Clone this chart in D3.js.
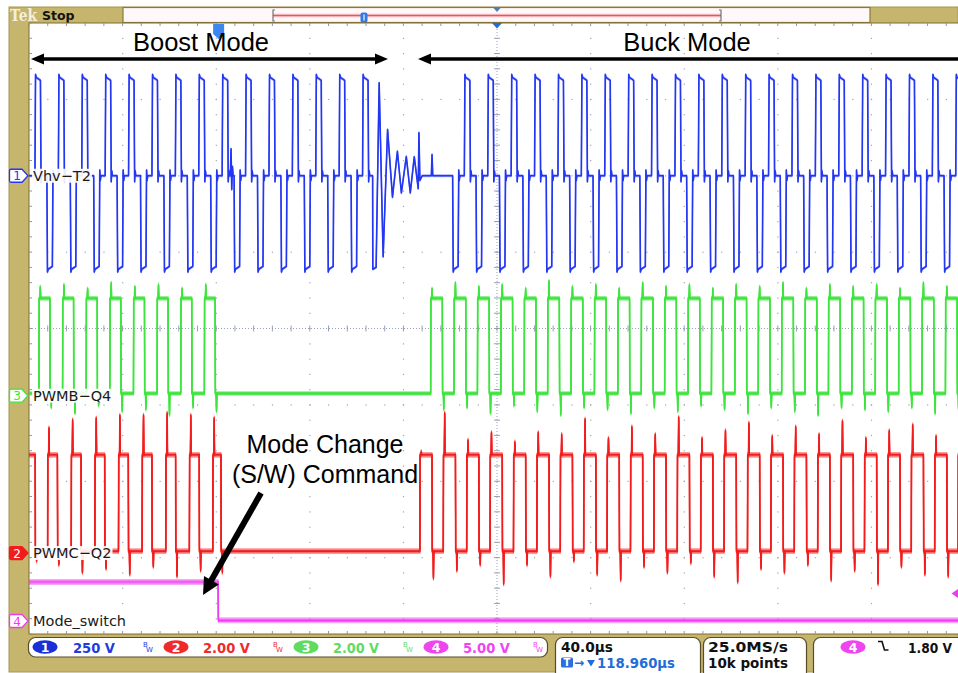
<!DOCTYPE html>
<html>
<head>
<meta charset="utf-8">
<title>Boost / Buck mode transition</title>
<script src="https://cdn.jsdelivr.net/npm/d3@7/dist/d3.min.js"></script>
<style>
  html, body { margin: 0; padding: 0; background: #ffffff; }
  svg { display: block; font-family: "DejaVu Sans", sans-serif; }
</style>
</head>
<body>
<svg id="scope" width="958" height="673"></svg>
<script>
// ---------- acquisition settings ----------
const channelIds   = [1, 2, 3, 4];
const channelNames = ["Vhv\u2212T2", "PWMC\u2212Q2", "PWMB\u2212Q4", "Mode_switch"];
const voltsPerDiv  = [250, 2, 2, 5];
const offsetDiv    = [2.0, -2.94, -0.88, -3.83];      // zero level, divisions above centre
const scaleLabels  = ["250 V", "2.00 V", "2.00 V", "5.00 V"];
const timePerDiv   = 40;          // µs / div
const triggerDelay = 118.960;     // µs, trigger -> screen centre
const timeLabel    = "40.0\u00b5s";
const delayLabel   = "118.960\u00b5s";
const sampleRate   = "25.0MS/s";
const recordLength = "10k points";
const triggerLevel = 1.80;        // V, channel 4, falling edge

// ---------- Ch1  Vhv-T2 : bipolar transformer voltage (µs from trigger) ----------
const vhvPosStart = [-78.5,-68.5,-58.5,-48.5,-38.5,-28.5,-18.5,-8.5,1.5,11.5,21.5,31.5,41.5,51.5,61.5,
                     105,115,125,135,145,155,165,175,185,195,205,215,225,235,245,255,265,275,285,295,305,315];
const vhvNegStart = [-73.4,-63.4,-53.4,-43.4,-33.4,-23.4,-13.4,-3.4,6.6,16.6,26.6,36.6,46.6,56.6,
                     100,110,120,130,140,150,160,170,180,190,200,210,220,230,240,250,260,270,280,290,300,310];
const vhvPosLevel = 322, vhvNegLevel = -306, vhvPulseWidth = 2.5;
// ringing after the last boost pulse
const vhvRingT = [65.8, 65.9, 67.3, 68.6, 70.3, 72.2, 74.3, 76.4, 78.1, 80.2, 81.9, 83.6, 85.3, 85.6, 86.0, 87.0];
const vhvRingV = [0, -306, -300, 304, -265, 151, -70, 80, -56, 63, -56, 62, -42, 141, -15, 0];
// isolated glitches on the zero level
const vhvGlitchT = [5.0, 5.3, 5.6, 5.9, 6.2, 90.9, 91.2, 91.5];
const vhvGlitchV = [0, 88, -45, 30, 0, 0, 69, 0];

// ---------- Ch3  PWMB-Q4 gate drive ----------
const q4Rise = [-76.8,-66.7,-56.6,-46.5,-36.4,-26.3,-16.2,-6.1,
                90.6,100.6,110.6,120.6,130.6,140.6,150.6,160.6,170.6,180.6,190.6,200.6,210.6,220.6,230.6,
                240.6,250.6,260.6,270.6,280.6,290.6,300.6,310.6];
const q4Fall = [-72.1,-62.0,-51.9,-41.8,-31.7,-21.6,-11.5,-1.5,
                95.6,105.6,115.6,125.6,135.6,145.6,155.6,165.6,175.6,185.6,195.6,205.6,215.6,225.6,235.6,
                245.6,255.6,265.6,275.6,285.6,295.6,305.6,315.6];
const q4RisePeak = [2.85,2.9,2.8,2.95,2.85,2.9,2.8,2.9, 2.8,2.95,2.85,2.9,2.8,3.0,2.85,2.9,2.8,2.95,2.85,2.9,
                    2.8,2.9,2.85,2.95,2.8,2.9,2.85,2.9,2.8,2.95,2.85];
const q4FallDip  = [-0.3,-0.45,-0.25,-0.4,-0.35,-0.5,-0.3,-0.4, -0.35,-0.3,-0.45,-0.25,-0.4,-0.5,-0.3,-0.35,
                    -0.45,-0.3,-0.4,-0.25,-0.35,-0.45,-0.3,-0.4,-0.5,-0.3,-0.35,-0.4,-0.3,-0.45,-0.35];
const q4High = 2.55, q4Low = 0.06;

// ---------- Ch2  PWMC-Q2 gate drive (starts high) ----------
const q2Rise = [-73.1,-63.0,-52.9,-42.8,-32.7,-22.6,-12.5,-2.5,
                86,96,106,116,126,136,146,156,166,176,186,196,206,216,226,236,246,256,266,276,286,296,306,316];
const q2Fall = [-78.4,-68.9,-58.8,-48.7,-38.6,-28.5,-18.4,-8.3,1.0,
                91.2,101.2,111.2,121.2,131.2,141.2,151.2,161.2,171.2,181.2,191.2,201.2,211.2,221.2,231.2,
                241.2,251.2,261.2,271.2,281.2,291.2,301.2,311.2];
const q2RisePeak = [3.27,3.48,3.53,3.6,3.6,3.66,3.6,3.53,
                    2.65,3.66,2.95,3.15,2.9,3.15,3.1,3.5,3.0,3.3,3.1,3.55,3.0,3.2,3.4,3.05,3.3,3.1,3.45,3.0,3.2,3.35,3.05,3.3];
const q2FallDip  = [-0.2,-0.3,-0.5,-0.4,-0.55,-0.35,-0.6,-0.45,-0.5,
                    -0.65,-0.45,-0.3,-0.8,-0.3,-0.6,-0.2,-0.55,-0.7,-0.35,-0.5,-0.25,-0.6,-0.75,-0.4,-0.5,
                    -0.3,-0.7,-0.45,-0.8,-0.35,-0.55,-0.6];
const q2High = 2.57, q2Low = 0.05;

// ---------- Ch4  Mode_switch command ----------
const modeFall = [-0.2];
const modeHigh = 2.55, modeLow = 0.05;

// ---------- annotations ----------
const modeTitles = ["Boost Mode", "Buck Mode"];
const commandNote = ["Mode Change", "(S/W) Command"];

// =====================================================================
const svg = d3.select("#scope");
const tan = "#c6b56d", tanEdge = "#7d6c35";
const colors = { 1: "#2336f2", 2: "#f21c1c", 3: "#3de43d", 4: "#f03cf0" };
const readColors = { 1: "#1f3be0", 2: "#f02a2a", 3: "#5fdc5f", 4: "#ef45ef" };
const annFont = "'Liberation Sans', Arial, sans-serif";

const plot = { left: 29, right: 965, top: 23, bottom: 634 };
const x = d3.scaleLinear()
  .domain([triggerDelay - 5 * timePerDiv, triggerDelay + 5 * timePerDiv])
  .range([plot.left, plot.right]);
const xDiv = d3.scaleLinear().domain([-5, 5]).range([plot.left, plot.right]);
const yDiv = d3.scaleLinear().domain([-4, 4]).range([plot.bottom, plot.top]);
const yCh = {};
channelIds.forEach((id, i) => {
  const v = voltsPerDiv[i], p = offsetDiv[i];
  yCh[id] = d3.scaleLinear().domain([(-4 - p) * v, (4 - p) * v]).range([plot.bottom, plot.top]);
});
const [t0, t1] = x.domain();

// ---------- bezel ----------
svg.append("rect").attr("x", 9).attr("y", 7).attr("width", 949).attr("height", 665)
  .attr("fill", tan).attr("stroke", "#a89650").attr("stroke-width", 1);

// top status bar
svg.append("text").attr("x", 10).attr("y", 21).attr("textLength", 27).attr("lengthAdjust", "spacingAndGlyphs")
  .style("font-family", "'DejaVu Serif', serif").style("font-weight", "bold").style("font-size", "17px")
  .attr("fill", "#f3efdc").text("Tek");
svg.append("text").attr("x", 42).attr("y", 19.5)
  .style("font-weight", "bold").style("font-size", "12.5px").attr("fill", "#111").text("Stop");

// record view
svg.append("rect").attr("x", 123).attr("y", 7.5).attr("width", 747).attr("height", 15)
  .attr("fill", "#fff8fb").attr("stroke", "#8a7a3a").attr("stroke-width", 1.2);
const recX = d3.scaleLinear().domain([0, 1]).range([273, 721]);
svg.append("rect").attr("x", recX(0)).attr("y", 13.5).attr("width", recX(1) - recX(0)).attr("height", 4)
  .attr("fill", "#fbd2d6");
svg.append("line").attr("x1", recX(0)).attr("x2", recX(1)).attr("y1", 15.5).attr("y2", 15.5)
  .attr("stroke", "#e8565c").attr("stroke-width", 1.4);
[recX(0), recX(1)].forEach((bx, i) => {
  const d = i === 0 ? 2 : -2;
  svg.append("path").attr("d", `M${bx + d},10 H${bx} V21 H${bx + d}`)
    .attr("fill", "none").attr("stroke", "#70757a").attr("stroke-width", 1.2);
});
svg.append("rect").attr("x", 360.5).attr("y", 12.5).attr("width", 7).attr("height", 10).attr("rx", 2)
  .attr("fill", "#2f7ae6");
svg.append("line").attr("x1", 364).attr("x2", 364).attr("y1", 14.5).attr("y2", 20.5)
  .attr("stroke", "#dbe9ff").attr("stroke-width", 1.4);
svg.append("path").attr("d", `M${xDiv(0) - 3.5},8 H${xDiv(0) + 3.5} L${xDiv(0)},12 Z`).attr("fill", "#4f7ead");

// ---------- graticule ----------
const clip = svg.append("clipPath").attr("id", "screen");
clip.append("rect").attr("x", plot.left).attr("y", plot.top)
  .attr("width", plot.right - plot.left).attr("height", plot.bottom - plot.top);
svg.append("rect").attr("x", plot.left).attr("y", plot.top)
  .attr("width", plot.right - plot.left).attr("height", plot.bottom - plot.top)
  .attr("fill", "#ffffff").attr("stroke", tanEdge).attr("stroke-width", 1);

const grid = svg.append("g").attr("clip-path", "url(#screen)");
const dotCol = "#9ea4b8";
const minorX = d3.range(-25, 26).map(k => k / 5);
const minorY = d3.range(-20, 21).map(k => k / 5);
// dotted division lines
d3.range(-4, 5).filter(i => i !== 0).forEach(i => {
  grid.selectAll(null).data(minorY).enter().append("rect")
    .attr("x", xDiv(i) - 0.5).attr("y", d => yDiv(d) - 0.5).attr("width", 1.2).attr("height", 1.2)
    .attr("fill", dotCol);
});
d3.range(-3, 4).filter(j => j !== 0).forEach(j => {
  grid.selectAll(null).data(minorX).enter().append("rect")
    .attr("x", d => xDiv(d) - 0.5).attr("y", yDiv(j) - 0.5).attr("width", 1.2).attr("height", 1.2)
    .attr("fill", dotCol);
});
// centre cross with minor ticks
grid.append("line").attr("x1", xDiv(0)).attr("x2", xDiv(0)).attr("y1", plot.top).attr("y2", plot.bottom)
  .attr("stroke", "#9aa2bb").attr("stroke-width", 1).attr("stroke-dasharray", "1,2");
grid.append("line").attr("x1", plot.left).attr("x2", plot.right).attr("y1", yDiv(0)).attr("y2", yDiv(0))
  .attr("stroke", "#9aa2bb").attr("stroke-width", 1).attr("stroke-dasharray", "1,2");
grid.selectAll(null).data(minorY).enter().append("line")
  .attr("x1", xDiv(0) - 3).attr("x2", xDiv(0) + 3).attr("y1", d => yDiv(d)).attr("y2", d => yDiv(d))
  .attr("stroke", "#8d95ad").attr("stroke-width", 0.9);
grid.selectAll(null).data(minorX).enter().append("line")
  .attr("y1", yDiv(0) - 3).attr("y2", yDiv(0) + 3).attr("x1", d => xDiv(d)).attr("x2", d => xDiv(d))
  .attr("stroke", "#8d95ad").attr("stroke-width", 0.9);
// edge ticks
grid.selectAll(null).data(minorX).enter().append("line")
  .attr("x1", d => xDiv(d)).attr("x2", d => xDiv(d)).attr("y1", plot.top).attr("y2", plot.top + 3)
  .attr("stroke", "#8d95ad");
grid.selectAll(null).data(minorX).enter().append("line")
  .attr("x1", d => xDiv(d)).attr("x2", d => xDiv(d)).attr("y1", plot.bottom - 3).attr("y2", plot.bottom)
  .attr("stroke", "#8d95ad");
grid.selectAll(null).data(minorY).enter().append("line")
  .attr("x1", plot.left).attr("x2", plot.left + 3).attr("y1", d => yDiv(d)).attr("y2", d => yDiv(d))
  .attr("stroke", "#8d95ad");

// ---------- trace construction ----------
function gateTrace(rise, fall, startHigh, hi, lo, risePk, fallDip) {
  const ev = rise.map((t, i) => ({ t, up: true, pk: risePk ? risePk[i] : null }))
    .concat(fall.map((t, i) => ({ t, up: false, pk: fallDip ? fallDip[i] : null })))
    .sort((a, b) => a.t - b.t);
  let lvl = startHigh ? hi : lo;
  const pts = [[t0, lvl]];
  ev.forEach(e => {
    const next = e.up ? hi : lo;
    pts.push([e.t, lvl], [e.t + 0.1, next]);
    if (e.pk != null) pts.push([e.t + 0.45, next], [e.t + 0.6, e.pk], [e.t + 0.75, next]);
    lvl = next;
  });
  pts.push([t1, lvl]);
  return pts;
}
function bipolarPulse(start, level, w) {
  return [[start, 0], [start + 0.25, level * 1.03], [start + 0.55, level], [start + w - 0.15, level * 0.97],
          [start + w + 0.1, -0.06 * level], [start + w + 0.35, 0.05 * level], [start + w + 0.6, 0]];
}
let vhvPts = [];
vhvPosStart.forEach(s => { vhvPts = vhvPts.concat(bipolarPulse(s, vhvPosLevel, vhvPulseWidth)); });
vhvNegStart.forEach(s => { vhvPts = vhvPts.concat(bipolarPulse(s, vhvNegLevel, vhvPulseWidth)); });
vhvPts = vhvPts.concat(vhvRingT.map((t, i) => [t, vhvRingV[i]]));
vhvPts = vhvPts.concat(vhvGlitchT.map((t, i) => [t, vhvGlitchV[i]]));
vhvPts.sort((a, b) => a[0] - b[0]);
vhvPts = [[t0, 0]].concat(vhvPts, [[t1, 0]]);

// noise band: stacked copies of each trace, shifted vertically by a pixel or two
const traces = [
  { id: 4, pts: gateTrace([], modeFall, true, modeHigh, modeLow), band: [-2.4, -1.2, 1.2, 2.4] },
  { id: 2, pts: gateTrace(q2Rise, q2Fall, true, q2High, q2Low, q2RisePeak, q2FallDip), band: [-2.2, -1.1, 1.1, 2.2] },
  { id: 3, pts: gateTrace(q4Rise, q4Fall, false, q4High, q4Low, q4RisePeak, q4FallDip), band: [-1.8, -0.9, 0.9, 1.8] },
  { id: 1, pts: vhvPts, band: [-0.8, 0.8] }
];
const traceLayer = svg.append("g").attr("clip-path", "url(#screen)");
traces.forEach(tr => {
  const line = d3.line().x(d => x(d[0])).y(d => yCh[tr.id](d[1]));
  const d = line(tr.pts);
  tr.band.forEach(off => {
    traceLayer.append("path").attr("d", d).attr("transform", `translate(0,${off})`)
      .attr("fill", "none").attr("stroke", colors[tr.id]).attr("stroke-width", 1.2)
      .attr("stroke-opacity", tr.id === 1 ? 0.4 : (Math.abs(off) > 1.5 ? 0.45 : 0.8))
      .attr("stroke-linejoin", "round");
  });
  traceLayer.append("path").attr("d", d).attr("fill", "none").attr("stroke", colors[tr.id])
    .attr("stroke-width", 1.6).attr("stroke-linejoin", "round");
});

// ---------- markers on the graticule ----------
// trigger position
const xt = x(0);
svg.append("path").attr("d", `M${xt - 5.5},24 H${xt + 5.5} V34 L${xt},39 L${xt - 5.5},34 Z`)
  .attr("fill", "#3d86f0");
// screen centre
svg.append("path").attr("d", `M${xDiv(0) - 5},23 H${xDiv(0) + 5} L${xDiv(0)},28.5 Z`).attr("fill", "#1a6fe0");
// trigger level (channel 4)
const yTrig = yCh[4](triggerLevel);
svg.append("path").attr("d", `M951.5,${yTrig} L958,${yTrig - 4.5} V${yTrig + 4.5} Z`).attr("fill", colors[4]);

// ---------- annotations ----------
const ann = svg.append("g");
const annText = (tx, ty, size, str) => ann.append("text").attr("x", tx).attr("y", ty)
  .attr("text-anchor", "middle").style("font-family", annFont).style("font-size", size + "px")
  .attr("fill", "#000").text(str);
annText(201, 50.5, 25.5, modeTitles[0]);
annText(687, 50.5, 25.5, modeTitles[1]);

function arrowHead(tipX, tipY, ux, uy, len, half) {
  const bx = tipX - ux * len, by = tipY - uy * len;
  const px = -uy * half, py = ux * half;
  return `M${tipX},${tipY} L${bx + px},${by + py} L${bx - px},${by - py} Z`;
}
const yArrow = 59;
ann.append("line").attr("x1", 38).attr("x2", 380).attr("y1", yArrow).attr("y2", yArrow)
  .attr("stroke", "#000").attr("stroke-width", 3.6);
ann.append("path").attr("d", arrowHead(31, yArrow, -1, 0, 13, 5.5)).attr("fill", "#000");
ann.append("path").attr("d", arrowHead(388, yArrow, 1, 0, 13, 5.5)).attr("fill", "#000");
ann.append("line").attr("x1", 426).attr("x2", 960).attr("y1", yArrow).attr("y2", yArrow)
  .attr("stroke", "#000").attr("stroke-width", 3.6);
ann.append("path").attr("d", arrowHead(418, yArrow, -1, 0, 13, 5.5)).attr("fill", "#000");

annText(325, 452.5, 25, commandNote[0]);
annText(325, 483, 25, commandNote[1]);
{
  const sx = 261, sy = 493, tx = 203, ty = 595;
  const L = Math.hypot(tx - sx, ty - sy), ux = (tx - sx) / L, uy = (ty - sy) / L;
  ann.append("line").attr("x1", sx).attr("y1", sy).attr("x2", tx - ux * 14).attr("y2", ty - uy * 14)
    .attr("stroke", "#000").attr("stroke-width", 6);
  ann.append("path").attr("d", arrowHead(tx, ty, ux, uy, 17, 8.5)).attr("fill", "#000");
}

// ---------- channel labels and ground markers ----------
const labelLayer = svg.append("g");
channelIds.forEach((id, i) => {
  const y0 = yCh[id](0);
  const t = labelLayer.append("text").attr("x", 33).attr("y", y0 + 5)
    .style("font-size", "14.5px").attr("fill", "#1a1a1a").text(channelNames[i]);
  const bb = t.node().getBBox();
  labelLayer.insert("rect", "text").attr("x", bb.x - 1).attr("y", bb.y + 1)
    .attr("width", bb.width + 2).attr("height", bb.height - 2).attr("fill", "#ffffff").attr("opacity", 0.9);
  const filled = id === 2;
  labelLayer.append("path")
    .attr("d", `M11,${y0 - 6.5} H22 L28,${y0} L22,${y0 + 6.5} H11 Q9.5,${y0 + 6.5} 9.5,${y0 + 5} V${y0 - 5} Q9.5,${y0 - 6.5} 11,${y0 - 6.5} Z`)
    .attr("fill", filled ? colors[id] : "#ffffff").attr("stroke", colors[id]).attr("stroke-width", 1.3);
  labelLayer.append("text").attr("x", 17).attr("y", y0 + 4.5).attr("text-anchor", "middle")
    .style("font-size", "12px").attr("fill", filled ? "#ffffff" : colors[id]).text(id);
});

// ---------- readout panel ----------
const panel = svg.append("g");
const box = (x0, y0, w, h) => panel.append("rect").attr("x", x0).attr("y", y0).attr("width", w).attr("height", h)
  .attr("rx", 7).attr("fill", "#ffffff").attr("stroke", "#5a4c28").attr("stroke-width", 1.2);
box(28.5, 637.5, 519, 19.5);
box(555.5, 637.5, 145, 45);
box(703.5, 637.5, 103, 45);
box(813.5, 637.5, 160, 45);

const chipX = [45, 176, 306, 436];
const valX  = [73, 203, 333, 463];
const valW  = [42, 47, 46, 47];
const bwX   = [143, 273, 403, 533];
channelIds.forEach((id, i) => {
  panel.append("ellipse").attr("cx", chipX[i]).attr("cy", 647).attr("rx", 12.5).attr("ry", 6.8)
    .attr("fill", id === 1 ? "#1a2fd8" : readColors[id]);
  panel.append("text").attr("x", chipX[i]).attr("y", 652).attr("text-anchor", "middle")
    .style("font-size", "12.5px").style("font-weight", "bold").attr("fill", "#fff").text(id);
  panel.append("text").attr("x", valX[i]).attr("y", 652.5).attr("textLength", valW[i])
    .attr("lengthAdjust", "spacingAndGlyphs").style("font-size", "14px").style("font-weight", "bold")
    .attr("fill", readColors[id]).text(scaleLabels[i]);
  panel.append("text").attr("x", bwX[i]).attr("y", 647).style("font-size", "7px").attr("fill", readColors[id]).text("B");
  panel.append("text").attr("x", bwX[i] + 3).attr("y", 652).style("font-size", "7px").attr("fill", readColors[id]).text("W");
});

panel.append("text").attr("x", 561).attr("y", 651.5).attr("textLength", 52).attr("lengthAdjust", "spacingAndGlyphs")
  .style("font-size", "14px").style("font-weight", "bold").attr("fill", "#111").text(timeLabel);
panel.append("rect").attr("x", 561).attr("y", 657.5).attr("width", 12).attr("height", 10).attr("rx", 1.5).attr("fill", "#2a6ee0");
panel.append("text").attr("x", 567).attr("y", 666).attr("text-anchor", "middle")
  .style("font-size", "10px").style("font-weight", "bold").attr("fill", "#fff").text("T");
panel.append("text").attr("x", 574).attr("y", 667).style("font-size", "12px").style("font-weight", "bold")
  .attr("fill", "#1f6ed8").text("\u2192");
panel.append("path").attr("d", "M587,660 H595 L591,666.5 Z").attr("fill", "#1f6ed8");
panel.append("text").attr("x", 597).attr("y", 668).attr("textLength", 78).attr("lengthAdjust", "spacingAndGlyphs")
  .style("font-size", "14px").style("font-weight", "bold").attr("fill", "#1f6ed8").text(delayLabel);

panel.append("text").attr("x", 708).attr("y", 651.5).attr("textLength", 80).attr("lengthAdjust", "spacingAndGlyphs")
  .style("font-size", "14px").style("font-weight", "bold").attr("fill", "#111").text(sampleRate);
panel.append("text").attr("x", 708).attr("y", 668).attr("textLength", 80).attr("lengthAdjust", "spacingAndGlyphs")
  .style("font-size", "14px").style("font-weight", "bold").attr("fill", "#111").text(recordLength);

panel.append("ellipse").attr("cx", 853).attr("cy", 647).attr("rx", 12.5).attr("ry", 6.8).attr("fill", readColors[4]);
panel.append("text").attr("x", 853).attr("y", 652).attr("text-anchor", "middle")
  .style("font-size", "12.5px").style("font-weight", "bold").attr("fill", "#fff").text(4);
panel.append("path").attr("d", "M878,641.5 H882 L884.5,650 H888.5").attr("fill", "none")
  .attr("stroke", "#111").attr("stroke-width", 1.6);
panel.append("text").attr("x", 908).attr("y", 652.5).attr("textLength", 44).attr("lengthAdjust", "spacingAndGlyphs")
  .style("font-size", "14px").style("font-weight", "bold").attr("fill", "#111")
  .text(triggerLevel.toFixed(2) + " V");
</script>
</body>
</html>
